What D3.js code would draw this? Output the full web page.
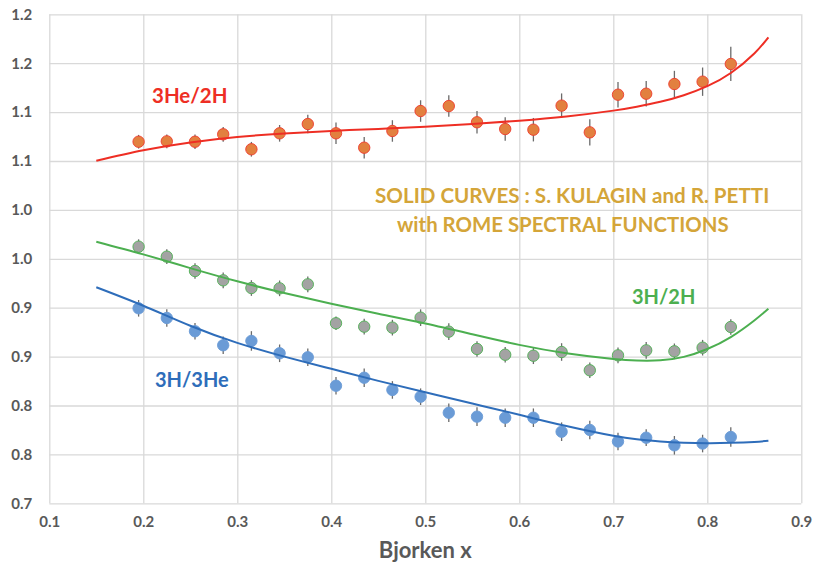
<!DOCTYPE html>
<html>
<head>
<meta charset="utf-8">
<script src="https://cdn.jsdelivr.net/npm/d3@7"></script>
<style>
  html, body { margin: 0; padding: 0; background: #ffffff; }
  svg { display: block; font-family: Lato, "Open Sans", sans-serif; }
</style>
</head>
<body>
<svg id="chart" width="815" height="567"></svg>
<script>
// ---------- data ----------
const bjorkenX = [0.195, 0.225, 0.255, 0.285, 0.315, 0.345, 0.375, 0.405, 0.435, 0.465, 0.495,
                  0.525, 0.555, 0.585, 0.615, 0.645, 0.675, 0.705, 0.735, 0.765, 0.795, 0.825];

const heOverD = [1.0697, 1.0701, 1.0697, 1.0773, 1.0620, 1.0783, 1.0878, 1.0783, 1.0636, 1.0807, 1.1011,
                 1.1062, 1.0896, 1.0827, 1.0820, 1.1066, 1.0793, 1.1178, 1.1188, 1.1287, 1.1311, 1.1492];
const heOverDErr = [0.007, 0.007, 0.0075, 0.0075, 0.0075, 0.0085, 0.0095, 0.011, 0.011, 0.011, 0.011,
                    0.011, 0.0115, 0.012, 0.012, 0.0125, 0.0135, 0.013, 0.013, 0.0135, 0.0145, 0.0175];

const hOverD = [0.9624, 0.9522, 0.9375, 0.9280, 0.9201, 0.9198, 0.9239, 0.8841, 0.8806, 0.8796, 0.8898,
                0.8755, 0.8578, 0.8519, 0.8509, 0.8547, 0.8360, 0.8513, 0.8564, 0.8554, 0.8591, 0.8803];
const hOverDErr = [0.0075, 0.0075, 0.008, 0.008, 0.008, 0.008, 0.008, 0.007, 0.008, 0.008, 0.0085,
                   0.0085, 0.008, 0.008, 0.0085, 0.009, 0.008, 0.008, 0.0085, 0.008, 0.008, 0.008];

const hOverHe = [0.8994, 0.8895, 0.8759, 0.8616, 0.8660, 0.8534, 0.8493, 0.8202, 0.8284, 0.8159, 0.8090,
                 0.7926, 0.7886, 0.7875, 0.7875, 0.7732, 0.7750, 0.7632, 0.7671, 0.7593, 0.7611, 0.7678];
const hOverHeErr = [0.0085, 0.009, 0.0085, 0.009, 0.010, 0.009, 0.009, 0.009, 0.0095, 0.009, 0.0085,
                    0.0095, 0.0095, 0.0095, 0.0095, 0.0095, 0.0095, 0.009, 0.0085, 0.0095, 0.009, 0.010];

// model curves (Kulagin & Petti)
const curveX   = [0.15, 0.20, 0.25, 0.30, 0.35, 0.40, 0.45, 0.50, 0.55, 0.60, 0.65, 0.70, 0.725, 0.75, 0.775, 0.80, 0.825, 0.85, 0.865];
const curveHeD = [1.0503, 1.0610, 1.0690, 1.0745, 1.0782, 1.0808, 1.0828, 1.0850, 1.0878, 1.0912, 1.0955, 1.1015, 1.1055, 1.1105, 1.1172, 1.1265, 1.1400, 1.1600, 1.1765];
const curveHD  = [0.9675, 0.9545, 0.9405, 0.9270, 0.9150, 0.9040, 0.8938, 0.8838, 0.8728, 0.8620, 0.8535, 0.8476, 0.8460, 0.8462, 0.8497, 0.8578, 0.8700, 0.8870, 0.8990];
const curveHHe = [0.9209, 0.9020, 0.8815, 0.8640, 0.8500, 0.8375, 0.8252, 0.8135, 0.8020, 0.7905, 0.7790, 0.7690, 0.7655, 0.7633, 0.7620, 0.7615, 0.7618, 0.7628, 0.7640];

const xTicks = [0.1, 0.2, 0.3, 0.4, 0.5, 0.6, 0.7, 0.8, 0.9];
const xTickLabels = ["0.1", "0.2", "0.3", "0.4", "0.5", "0.6", "0.7", "0.8", "0.9"];
const yTicks = [0.70, 0.75, 0.80, 0.85, 0.90, 0.95, 1.00, 1.05, 1.10, 1.15, 1.20];
const yTickLabels = ["0.7", "0.8", "0.8", "0.9", "0.9", "1.0", "1.0", "1.1", "1.1", "1.2", "1.2"];

const xTitle = "Bjorken x";
const labelHeD = "3He/2H";
const labelHD = "3H/2H";
const labelHHe = "3H/3He";
const noteLine1 = "SOLID CURVES : S. KULAGIN and R. PETTI";
const noteLine2 = "with ROME SPECTRAL FUNCTIONS";

// ---------- layout ----------
const svg = d3.select("#chart");
const plot = { left: 49.3, right: 801.3, top: 14.3, bottom: 503.3 };

const x = d3.scaleLinear().domain([0.1, 0.9]).range([plot.left, plot.right]);
const y = d3.scaleLinear().domain([0.7, 1.2]).range([plot.bottom, plot.top]);

const gridColor = "#d9d9d9";
const tickColor = "#595959";

// y axis with gridlines
const yAxis = d3.axisLeft(y)
  .tickValues(yTicks)
  .tickFormat((d, i) => yTickLabels[i])
  .tickSize(-(plot.right - plot.left))
  .tickPadding(17);
const gy = svg.append("g").attr("transform", `translate(${plot.left},0)`).call(yAxis);
gy.select(".domain").remove();
gy.selectAll(".tick line").attr("stroke", gridColor).attr("stroke-width", 1.3);
gy.selectAll(".tick text")
  .attr("fill", tickColor).style("font-size", "15px").style("font-weight", "700")
  .style("font-family", "Lato, 'Open Sans', sans-serif");

// x axis with gridlines
const xAxis = d3.axisBottom(x)
  .tickValues(xTicks)
  .tickFormat((d, i) => xTickLabels[i])
  .tickSize(-(plot.bottom - plot.top))
  .tickPadding(13);
const gx = svg.append("g").attr("transform", `translate(0,${plot.bottom})`).call(xAxis);
gx.select(".domain").remove();
gx.selectAll(".tick line").attr("stroke", gridColor).attr("stroke-width", 1.3);
gx.selectAll(".tick text")
  .attr("fill", tickColor).style("font-size", "15px").style("font-weight", "700")
  .style("font-family", "Lato, 'Open Sans', sans-serif");

// axis title
svg.append("text")
  .attr("x", x(0.5)).attr("y", 558)
  .attr("text-anchor", "middle")
  .attr("fill", tickColor)
  .style("font-size", "22px").style("font-weight", "700")
  .text(xTitle);

// ---------- series ----------
const series = [
  { vals: heOverD, err: heOverDErr, curve: curveHeD, fill: "#E2803F", stroke: "#EE3A2C", line: "#EE2E24" },
  { vals: hOverD,  err: hOverDErr,  curve: curveHD,  fill: "#A3A3A3", stroke: "#4CAF50", line: "#4CAF50" },
  { vals: hOverHe, err: hOverHeErr, curve: curveHHe, fill: "#6A9BD6", stroke: "#6A9BD6", line: "#2E6DBA" }
];

const lineGen = d3.line()
  .x(d => x(d[0]))
  .y(d => y(d[1]))
  .curve(d3.curveNatural);

series.forEach(s => {
  const g = svg.append("g");
  const pts = bjorkenX.map((bx, i) => ({ x: bx, v: s.vals[i], e: s.err[i] }));
  g.selectAll("line.err").data(pts).enter().append("line")
    .attr("class", "err")
    .attr("x1", d => x(d.x)).attr("x2", d => x(d.x))
    .attr("y1", d => y(d.v + d.e)).attr("y2", d => y(d.v - d.e))
    .attr("stroke", "#6b6b6b").attr("stroke-width", 1.3);
  g.selectAll("circle").data(pts).enter().append("circle")
    .attr("cx", d => x(d.x)).attr("cy", d => y(d.v))
    .attr("r", 5.7)
    .attr("fill", s.fill)
    .attr("stroke", s.stroke).attr("stroke-width", 0.9);
});

series.forEach(s => {
  svg.append("path")
    .datum(curveX.map((cx, i) => [cx, s.curve[i]]))
    .attr("d", lineGen)
    .attr("fill", "none")
    .attr("stroke", s.line)
    .attr("stroke-width", 2);
});

// ---------- annotations ----------
const labelStyle = (sel, color, size) => sel
  .attr("fill", color).style("font-size", size + "px").style("font-weight", "700");

labelStyle(svg.append("text").attr("x", 152).attr("y", 103).text(labelHeD), "#EE2E24", 20.5);
labelStyle(svg.append("text").attr("x", 632).attr("y", 304).text(labelHD), "#4CAF50", 20);
labelStyle(svg.append("text").attr("x", 155).attr("y", 387).text(labelHHe), "#2E6DBA", 20);

labelStyle(svg.append("text").attr("x", 375).attr("y", 203).text(noteLine1), "#D4A539", 20.6);
labelStyle(svg.append("text").attr("x", 397).attr("y", 232).text(noteLine2), "#D4A539", 20.4);
</script>
</body>
</html>
